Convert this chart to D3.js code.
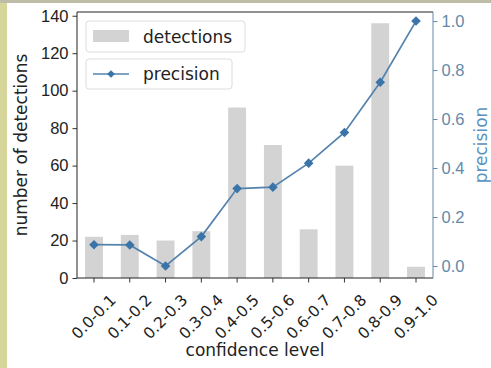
<!DOCTYPE html>
<html>
<head>
<meta charset="utf-8">
<script src="https://cdn.jsdelivr.net/npm/d3@7"></script>
<style>
  html, body { margin: 0; padding: 0; background: #fff; }
  svg { display: block; font-family: "DejaVu Sans", sans-serif; }
</style>
</head>
<body>
<div id="chart"></div>
<script>
const categories = ["0.0-0.1", "0.1-0.2", "0.2-0.3", "0.3-0.4", "0.4-0.5",
                    "0.5-0.6", "0.6-0.7", "0.7-0.8", "0.8-0.9", "0.9-1.0"];
const detections = [22, 23, 20, 25, 91, 71, 26, 60, 136, 6];
const precision = [0.087, 0.086, 0.0, 0.12, 0.316, 0.322, 0.42, 0.545, 0.75, 1.0];
const leftTicks = [0, 20, 40, 60, 80, 100, 120, 140];
const rightTicks = [0.0, 0.2, 0.4, 0.6, 0.8, 1.0];

const W = 491, H = 368;
const plotLeft = 77, plotRight = 433, plotTop = 12, plotBottom = 278;
const lineColor = "#5583ad";
const markColor = "#3a74a8";
const axisBlue = "#6489a8";

const svg = d3.select("#chart").append("svg")
  .attr("width", W).attr("height", H);

// page edge (scanned border)
svg.append("rect").attr("x", 0).attr("y", 0).attr("width", W).attr("height", H).attr("fill", "#fff");
svg.append("rect").attr("x", 0).attr("y", 0).attr("width", 7).attr("height", H).attr("fill", "#d6d69a");
svg.append("rect").attr("x", 0).attr("y", 0).attr("width", W).attr("height", 3).attr("fill", "#bdbca6");

const x = d3.scaleBand().domain(categories).range([plotLeft, plotRight])
  .paddingInner(0.5).paddingOuter(0.225);
const y = d3.scaleLinear().domain([0, 142]).range([plotBottom, plotTop]);
const y2 = d3.scaleLinear().domain([-0.049, 1.037]).range([plotBottom, plotTop]);

// bars
svg.append("g").selectAll("rect")
  .data(detections)
  .join("rect")
  .attr("x", (d, i) => x(categories[i]))
  .attr("y", d => y(d))
  .attr("width", x.bandwidth())
  .attr("height", d => y(0) - y(d))
  .attr("fill", "#d3d3d3");

// precision line
const cx = (d, i) => x(categories[i]) + x.bandwidth() / 2;
svg.append("path")
  .datum(precision)
  .attr("fill", "none")
  .attr("stroke", lineColor)
  .attr("stroke-width", 1.7)
  .attr("d", d3.line().x(cx).y(d => y2(d)));

svg.append("g").selectAll("path")
  .data(precision)
  .join("path")
  .attr("transform", (d, i) => `translate(${cx(d, i)},${y2(d)}) rotate(45)`)
  .attr("d", d3.symbol(d3.symbolSquare, 46))
  .attr("fill", markColor);

// left axis
const gl = svg.append("g")
  .attr("transform", `translate(${plotLeft},0)`)
  .call(d3.axisLeft(y).tickValues(leftTicks).tickSize(4.5).tickPadding(4));
gl.select(".domain").remove();
gl.selectAll(".tick line").attr("stroke", "#333");
gl.selectAll(".tick text").attr("fill", "#222").style("font-size", "16.5px");

// right axis
const gr = svg.append("g")
  .attr("transform", `translate(${plotRight},0)`)
  .call(d3.axisRight(y2).tickValues(rightTicks).tickFormat(d3.format(".1f")).tickSize(4.5).tickPadding(4));
gr.select(".domain").remove();
gr.selectAll(".tick line").attr("stroke", axisBlue);
gr.selectAll(".tick text").attr("fill", axisBlue).style("font-size", "16.5px");

// bottom axis
const gb = svg.append("g")
  .attr("transform", `translate(0,${plotBottom})`)
  .call(d3.axisBottom(x).tickSize(4.5).tickFormat(""));
gb.select(".domain").remove();
gb.selectAll(".tick line").attr("stroke", "#333");

svg.append("g").selectAll("text")
  .data(categories)
  .join("text")
  .attr("transform", d => `translate(${x(d) + x.bandwidth() / 2},${plotBottom + 39}) rotate(-45)`)
  .attr("text-anchor", "middle")
  .attr("dominant-baseline", "central")
  .attr("fill", "#222")
  .style("font-size", "15.5px")
  .text(d => d);

// spines
svg.append("line").attr("x1", plotLeft).attr("x2", plotLeft).attr("y1", plotTop).attr("y2", plotBottom).attr("stroke", "#222");
svg.append("line").attr("x1", plotLeft).attr("x2", plotRight).attr("y1", plotBottom).attr("y2", plotBottom).attr("stroke", "#222");
svg.append("line").attr("x1", plotLeft).attr("x2", plotRight).attr("y1", plotTop).attr("y2", plotTop).attr("stroke", "#222");
svg.append("line").attr("x1", plotRight).attr("x2", plotRight).attr("y1", plotTop).attr("y2", plotBottom).attr("stroke", axisBlue);

// axis titles
svg.append("text")
  .attr("transform", `translate(${(plotLeft + plotRight) / 2},${H - 12})`)
  .attr("text-anchor", "middle")
  .attr("fill", "#222")
  .style("font-size", "17px")
  .text("confidence level");

svg.append("text")
  .attr("transform", `translate(21,${(plotTop + plotBottom) / 2}) rotate(-90)`)
  .attr("text-anchor", "middle")
  .attr("dominant-baseline", "central")
  .attr("fill", "#222")
  .style("font-size", "17px")
  .text("number of detections");

svg.append("text")
  .attr("transform", `translate(481,${(plotTop + plotBottom) / 2}) rotate(-90)`)
  .attr("text-anchor", "middle")
  .attr("dominant-baseline", "central")
  .attr("fill", "#5b93c0")
  .style("font-size", "17px")
  .text("precision");

// legends (two separate boxes)
const lg1 = svg.append("g").attr("transform", "translate(86,21)");
lg1.append("rect").attr("width", 159).attr("height", 31).attr("rx", 3)
  .attr("fill", "#fff").attr("stroke", "#dcdcdc");
lg1.append("rect").attr("x", 7).attr("y", 9).attr("width", 36).attr("height", 12).attr("fill", "#d3d3d3");
lg1.append("text").attr("x", 57).attr("y", 21.5).attr("fill", "#222").style("font-size", "17px").text("detections");

const lg2 = svg.append("g").attr("transform", "translate(86,59)");
lg2.append("rect").attr("width", 146).attr("height", 30).attr("rx", 3)
  .attr("fill", "#fff").attr("stroke", "#dcdcdc");
lg2.append("line").attr("x1", 7).attr("x2", 43).attr("y1", 15).attr("y2", 15)
  .attr("stroke", lineColor).attr("stroke-width", 1.7);
lg2.append("path").attr("transform", "translate(25,15) rotate(45)")
  .attr("d", d3.symbol(d3.symbolSquare, 30)).attr("fill", markColor);
lg2.append("text").attr("x", 57).attr("y", 21).attr("fill", "#222").style("font-size", "17px").text("precision");
</script>
</body>
</html>
